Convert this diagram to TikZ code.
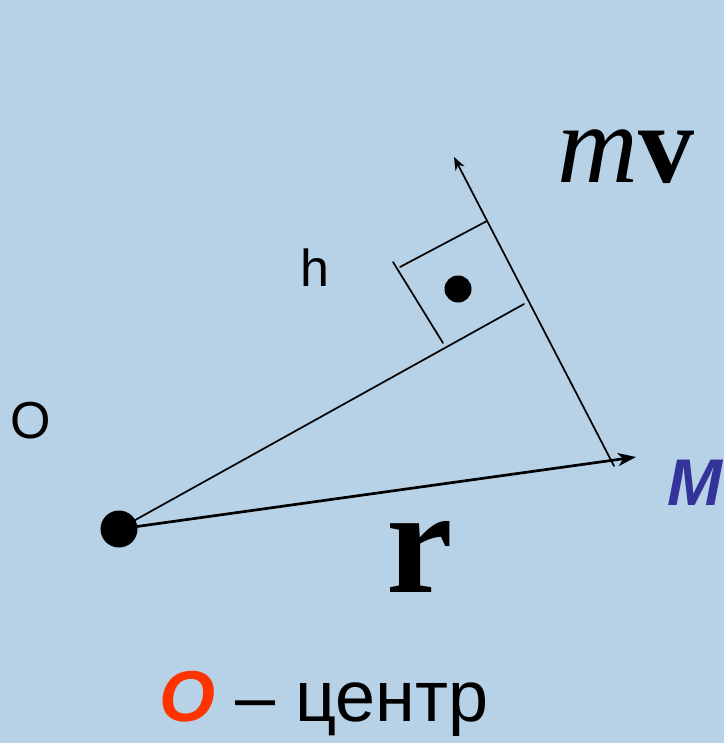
\documentclass[tikz,border=0pt]{standalone}
\usepackage{fontspec}
\setmainfont{Liberation Serif}
\setsansfont{Liberation Sans}
\usetikzlibrary{arrows.meta}
\definecolor{bgblue}{RGB}{183,209,230}
\definecolor{mblue}{RGB}{51,51,153}
\definecolor{ored}{RGB}{255,51,0}
\begin{document}
\begin{tikzpicture}[x=1pt,y=-1pt,
  thinline/.style={line width=1.7pt,line cap=round},
  lbl/.style={inner sep=0pt,font=\sffamily\fontsize{52}{60}\selectfont},
  dotnode/.style={circle,fill=black,inner sep=0pt}]
\fill[bgblue] (0,0) rectangle (724,743);
\useasboundingbox (0,0) rectangle (724,743);
% points
\node[dotnode,minimum size=37pt] (O) at (119,529) {};
\node[dotnode,minimum size=27pt] (dot) at (458,289) {};
\coordinate (rtip) at (636,457);
\coordinate (foot) at (524,304);
\coordinate (mvtail) at (614,466);
\coordinate (mvtip) at (454,157);
\coordinate (sqA) at (487,221);
\coordinate (sqB) at (400,267);
\coordinate (sqC) at (393,262);
\coordinate (sqD) at (443,343);
% lines
\draw[thinline] (O.center) -- (foot);
\draw[line width=2.7pt,-{Stealth[length=18pt,width=13pt,inset=5pt]}] (O.center) -- (rtip);
\draw[thinline,-{Stealth[length=13pt,width=10pt,inset=4pt]}] (mvtail) -- (mvtip);
\draw[thinline] (sqB) -- (sqA);
\draw[thinline] (sqC) -- (sqD);
% labels
\node[lbl] (Olbl) at (31,421) {O};
\node[lbl] (hlbl) at (315,268) {h};
\node[inner sep=0pt,font=\fontsize{112}{120}\selectfont] (mv) at (626,157) {\textit{m}\textbf{v}};
\node[inner sep=0pt,font=\fontsize{150}{160}\selectfont\bfseries] (r) at (420,557) {r};
\node[inner sep=0pt,text=mblue,font=\sffamily\bfseries\itshape\fontsize{66}{72}\selectfont] (M) at (695,483) {M};
\node[inner sep=0pt,anchor=base,font=\sffamily\fontsize{72}{78}\selectfont] (cap) at (324,721) {\textcolor{ored}{\bfseries\itshape O} – центр};
\end{tikzpicture}
\end{document}
